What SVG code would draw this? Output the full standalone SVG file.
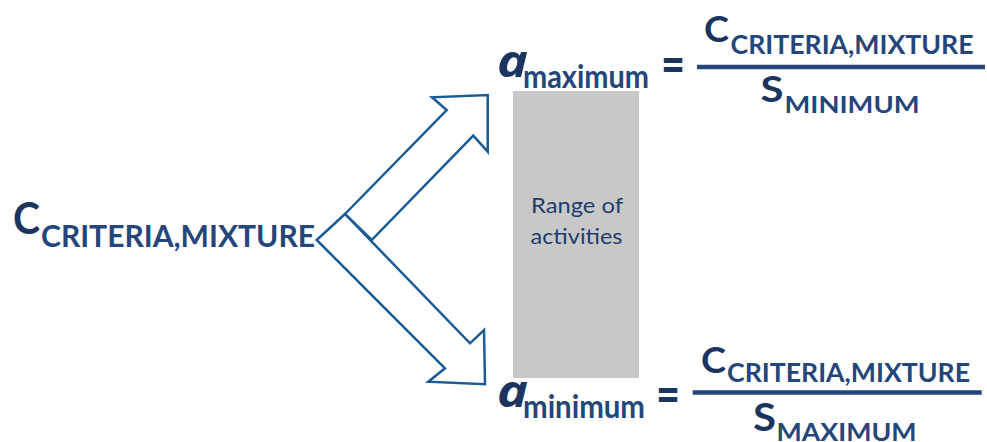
<svg xmlns="http://www.w3.org/2000/svg" width="987" height="442" viewBox="0 0 987 442">
<style>
.t{font-family:Lato,"Open Sans","Liberation Sans",sans-serif;font-weight:bold;fill:#1F3D6B}
.main{fill:#1C3560}
.sub{fill:#24467A}
.it{font-family:"Open Sans",Lato,"Liberation Sans",sans-serif;font-style:italic}
.arrow{fill:#FFFFFF;stroke:#1B5C96;stroke-width:2.5;stroke-linejoin:miter}
.bar{stroke:#24467A;stroke-width:4.4}
.range{font-family:Lato,"Open Sans","Liberation Sans",sans-serif;font-size:22px;fill:#1F3D6B}
</style>
<rect id="range-box" x="513" y="91" width="126" height="287" fill="#C8C8C8"/>
<g id="range-label">
<text class="range" x="531" y="212.5" textLength="92" lengthAdjust="spacingAndGlyphs">Range of</text>
<text class="range" x="530.5" y="243.5" textLength="92" lengthAdjust="spacingAndGlyphs">activities</text>
</g>
<g id="connectors">
<polygon class="arrow" points="316.7,240 345,214 470,343.3 484,330 485,384.3 428.3,381.7 445,368.3"/>
<polygon class="arrow" points="345,214 446.7,110 432,97.3 487.7,95 487.7,151.7 473.3,135.7 371.7,240"/>
</g>
<g id="c-criteria-mixture">
<text class="t main" x="13" y="234" font-size="43" textLength="27" lengthAdjust="spacingAndGlyphs">C</text>
<text class="t sub" x="41" y="246.5" font-size="30" textLength="274" lengthAdjust="spacingAndGlyphs">CRITERIA,MIXTURE</text>
</g>
<g id="a-maximum">
<text class="t main it" x="497" y="77.3" font-size="45" textLength="31" lengthAdjust="spacingAndGlyphs">a</text>
<text class="t sub" x="523" y="88.3" font-size="33" textLength="126" lengthAdjust="spacingAndGlyphs">maximum</text>
<text class="t main" x="661" y="83" font-size="54" textLength="24" lengthAdjust="spacingAndGlyphs">=</text>
<line class="bar" x1="697" y1="67" x2="985" y2="67"/>
<text class="t main" x="704" y="41.7" font-size="37" textLength="25" lengthAdjust="spacingAndGlyphs">C</text>
<text class="t sub" x="730.5" y="53.5" font-size="26" textLength="243" lengthAdjust="spacingAndGlyphs">CRITERIA,MIXTURE</text>
<text class="t main" x="760.5" y="101.7" font-size="37" textLength="23" lengthAdjust="spacingAndGlyphs">S</text>
<text class="t sub" x="784.5" y="113.3" font-size="23" textLength="135" lengthAdjust="spacingAndGlyphs">MINIMUM</text>
</g>
<g id="a-minimum">
<text class="t main it" x="497" y="406.7" font-size="44" textLength="31" lengthAdjust="spacingAndGlyphs">a</text>
<text class="t sub" x="523" y="418.3" font-size="33" textLength="122" lengthAdjust="spacingAndGlyphs">minimum</text>
<text class="t main" x="656" y="413" font-size="54" textLength="24" lengthAdjust="spacingAndGlyphs">=</text>
<line class="bar" x1="692.7" y1="392.5" x2="981.7" y2="392.5"/>
<text class="t main" x="701" y="373.3" font-size="37" textLength="25" lengthAdjust="spacingAndGlyphs">C</text>
<text class="t sub" x="727" y="382" font-size="26" textLength="243" lengthAdjust="spacingAndGlyphs">CRITERIA,MIXTURE</text>
<text class="t main" x="753" y="430.7" font-size="38" textLength="23" lengthAdjust="spacingAndGlyphs">S</text>
<text class="t sub" x="776.5" y="441" font-size="24" textLength="140" lengthAdjust="spacingAndGlyphs">MAXIMUM</text>
</g>
</svg>
